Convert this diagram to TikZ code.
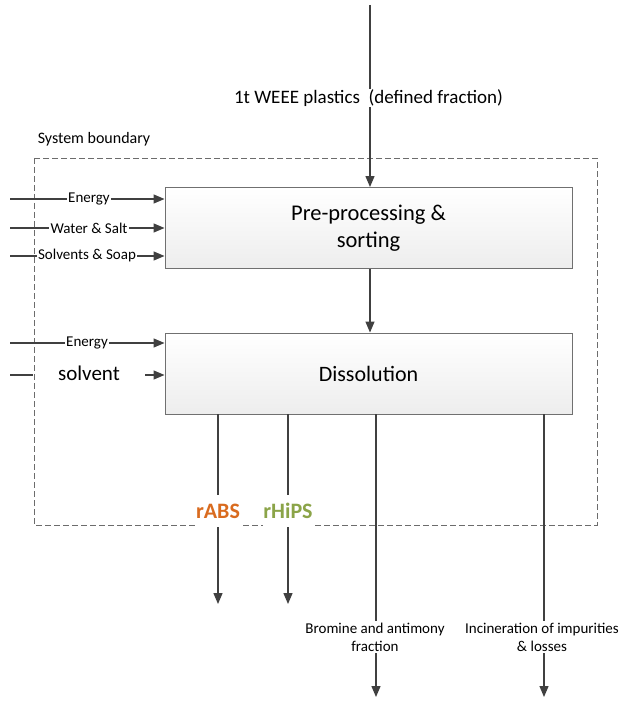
\documentclass[tikz,border=0pt]{standalone}
\usepackage{fontspec}
\setmainfont{Carlito}
\usetikzlibrary{arrows.meta}
\definecolor{linegray}{HTML}{404040}
\definecolor{boxedge}{HTML}{707070}
\definecolor{absorange}{HTML}{D96B1F}
\definecolor{hipsgreen}{HTML}{8BA448}
\begin{document}
\begin{tikzpicture}[x=1pt,y=-1pt,
  flow/.style={draw=linegray, line width=1.3pt, -{Triangle[length=11pt,width=9pt]}},
  wire/.style={draw=linegray, line width=1.3pt},
  procbox/.style={draw=boxedge, line width=0.9pt, top color=white, bottom color=gray!14,
    minimum width=407pt, minimum height=81pt, align=center, inner sep=0pt,
    font=\fontsize{22.5}{27}\selectfont},
  boundary/.style={draw=gray!85!black, dash pattern=on 6pt off 3pt, line width=0.8pt},
  inlabel/.style={fill=white, inner xsep=1.5pt, inner ysep=0pt, font=\fontsize{15}{16}\selectfont},
  outlabel/.style={fill=white, align=center, inner xsep=1pt, inner ysep=2pt, font=\fontsize{15}{18}\selectfont},
  product/.style={fill=white, inner xsep=0.5pt, minimum height=32pt, font=\bfseries\fontsize{22}{24}\selectfont},
]
\useasboundingbox (0,0) rectangle (624,703);

% system boundary
\draw[boundary] (34,158) rectangle (597,525);
\node[font=\fontsize{16}{18}\selectfont] (sysb) at (94,139) {System boundary};

% process steps
\node[procbox] (pre) at (368.5,228) {Pre-processing \&\\sorting};
\node[procbox, font=\fontsize{22}{27}\selectfont] (dis) at (368.5,373.5) {Dissolution};

% main feed
\coordinate (src) at (370,5);
\draw[flow] (src) -- (src |- pre.north);
\node[fill=white, inner sep=1pt, font=\fontsize{19}{21}\selectfont] (feed) at (368.5,98) {1t WEEE plastics\ \ (defined fraction)};
\draw[flow] (pre.south -| src) -- (dis.north -| src);

% inputs to pre-processing
\coordinate (e1s) at (10,199);
\coordinate (wss) at (10,228);
\coordinate (sss) at (10,256);
\draw[flow] (e1s) -- (e1s -| pre.west);
\draw[flow] (wss) -- (wss -| pre.west);
\draw[flow] (sss) -- (sss -| pre.west);
\node[inlabel] (e1) at (89,199) {Energy};
\node[inlabel] (ws) at (89,228) {Water \& Salt};
\node[inlabel] (ss) at (87,256) {Solvents \& Soap};

% inputs to dissolution
\coordinate (e2s) at (10,343);
\draw[flow] (e2s) -- (e2s -| dis.west);
\node[inlabel] (e2) at (87,343) {Energy};
\coordinate (svs) at (10,375);
\coordinate (svb) at (33,375);
\draw[wire] (svs) -- (svb);
\node[font=\fontsize{21}{23}\selectfont] (sv) at (89,373) {solvent};
\coordinate (sva) at (145,375);
\draw[flow] (sva) -- (sva -| dis.west);

% outputs
\coordinate (o1) at (218,604);
\coordinate (o2) at (288,604);
\coordinate (o3) at (376,697);
\coordinate (o4) at (544,697);
\draw[flow] (dis.south -| o1) -- (o1);
\draw[flow] (dis.south -| o2) -- (o2);
\draw[flow] (dis.south -| o3) -- (o3);
\draw[flow] (dis.south -| o4) -- (o4);
\node[product, text=absorange] (rabs) at (218,511) {rABS};
\node[product, text=hipsgreen] (rhips) at (288,511) {rHiPS};
\node[outlabel] (brsb) at (375,637) {Bromine and antimony\\fraction};
\node[outlabel] (inc) at (542,637) {Incineration of impurities\\\& losses};
\end{tikzpicture}
\end{document}
